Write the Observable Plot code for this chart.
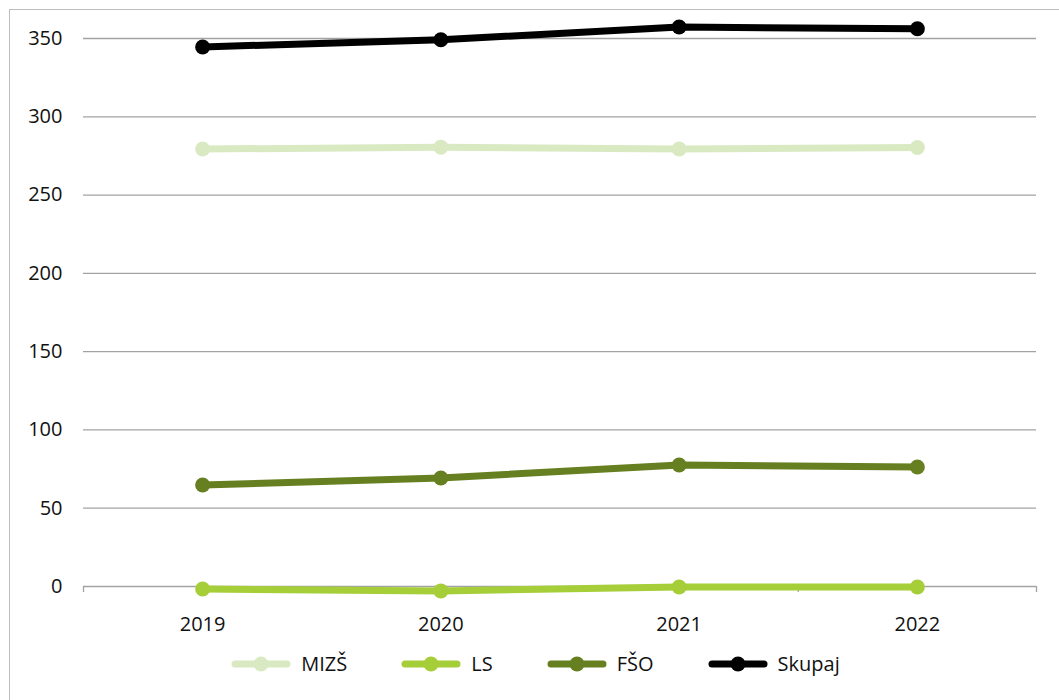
<!DOCTYPE html>
<html>
<head>
<meta charset="utf-8">
<script src="https://cdn.jsdelivr.net/npm/d3@7"></script>
<script src="https://cdn.jsdelivr.net/npm/@observablehq/plot@0.6"></script>
<style>
  html, body { margin: 0; padding: 0; background: #fff; }
  body { width: 1059px; height: 700px; position: relative; overflow: hidden; font-family: "Open Sans", sans-serif; }
  #frame { position: absolute; left: 9px; top: 9px; width: 1100px; height: 760px; border: 1.5px solid #bdbdbd; box-sizing: border-box; }
  #chart { position: absolute; left: 0; top: 0; }
  #legend { position: absolute; left: 6px; top: 650px; width: 1059px; display: flex; justify-content: center; align-items: center; font-size: 20px; color: #111; }
  .item { display: flex; align-items: center; margin: 0 27px; }
  .item svg { margin-right: 10px; }
</style>
</head>
<body>
<div id="frame"></div>
<div id="chart"></div>
<div id="legend"></div>
<script>
const years = [2019, 2020, 2021, 2022];
const seriesNames = ["MIZŠ", "LS", "FŠO", "Skupaj"];
const colors = ["#d9eac3", "#a6ce39", "#667f20", "#000000"];
const mizs = [279.4, 280.6, 279.4, 280.4];
const ls = [-1.6, -2.8, -0.3, -0.3];
const fso = [64.8, 69.3, 77.6, 76.3];
const skupaj = [344.6, 349.2, 357.3, 356.2];
const yTicks = [0, 50, 100, 150, 200, 250, 300, 350];
const bandEdges = [2018.5, 2019.5, 2020.5, 2021.5, 2022.5];

const valueLists = [mizs, ls, fso, skupaj];
const data = [];
seriesNames.forEach((s, i) => years.forEach((yr, j) => data.push({series: s, year: yr, value: valueLists[i][j]})));

const W = 1059, H = 640;
const plot = Plot.plot({
  width: W,
  height: H,
  marginLeft: 83,
  marginRight: 23,
  marginTop: 38,
  marginBottom: 54,
  style: {fontFamily: "Open Sans, sans-serif", fontSize: "20px", color: "#111", background: "transparent"},
  x: {domain: [2018.5, 2022.5], axis: null, label: null},
  y: {domain: [0, 350], axis: null, label: null},
  color: {domain: seriesNames, range: colors},
  marks: [
    Plot.ruleY(yTicks, {stroke: "#a3a3a3", strokeWidth: 1.3, strokeOpacity: 1}),
    Plot.axisX(bandEdges, {tickSize: 6, tickFormat: () => "", label: null, stroke: "#a3a3a3", strokeWidth: 1.3, strokeOpacity: 1}),
    Plot.axisX(years, {tickSize: 0, tickPadding: 30, label: null, tickFormat: d => String(d), fontSize: 20, fill: "#111"}),
    Plot.axisY(yTicks, {tickSize: 0, tickPadding: 21, label: null, fontSize: 20, fill: "#111", anchor: "left"}),
    Plot.line(data, {x: "year", y: "value", z: "series", stroke: "series", strokeWidth: 7, strokeLinecap: "round", strokeLinejoin: "round"}),
    Plot.dot(data, {x: "year", y: "value", fill: "series", r: 7.5, stroke: null})
  ]
});
document.getElementById("chart").appendChild(plot);

const legend = document.getElementById("legend");
seriesNames.forEach((s, i) => {
  const item = document.createElement("div");
  item.className = "item";
  item.innerHTML = `<svg width="60" height="20"><line x1="4" y1="10" x2="56" y2="10" stroke="${colors[i]}" stroke-width="7" stroke-linecap="round"/><circle cx="30" cy="10" r="7.5" fill="${colors[i]}"/></svg><span>${s}</span>`;
  legend.appendChild(item);
});
</script>
</body>
</html>
